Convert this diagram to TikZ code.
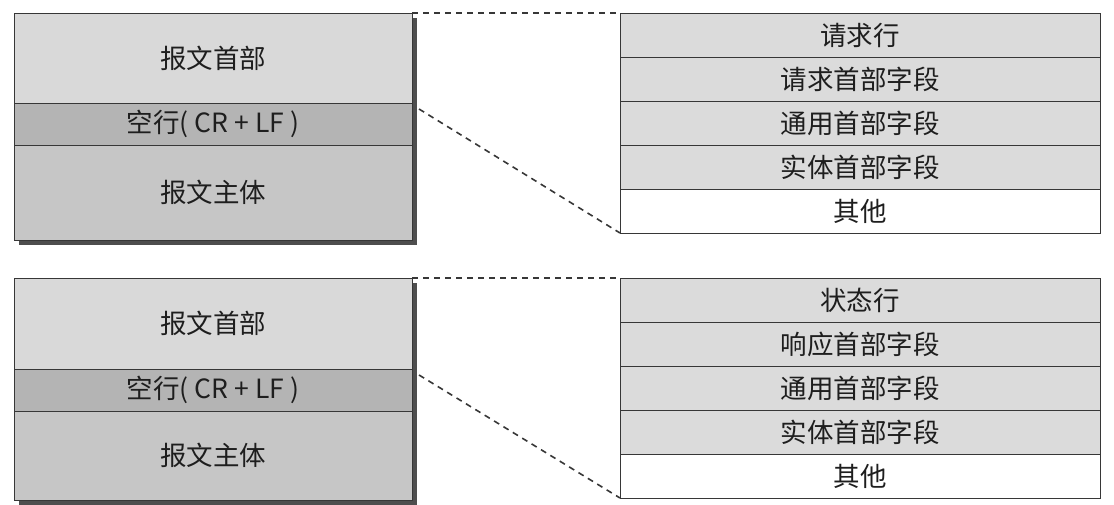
\documentclass[tikz,border=0pt]{standalone}
\usepackage{fontspec}
\setmainfont{Noto Sans CJK SC}
\usetikzlibrary{positioning,backgrounds}

\definecolor{headgray}{RGB}{217,217,217}
\definecolor{blankgray}{RGB}{180,180,180}
\definecolor{bodygray}{RGB}{198,198,198}
\definecolor{fieldgray}{RGB}{219,219,219}
\definecolor{shadowgray}{RGB}{78,78,78}
\definecolor{linegray}{RGB}{55,55,55}
\definecolor{textgray}{RGB}{30,30,30}

\begin{document}
\begin{tikzpicture}[x=1pt,y=-1pt,
  part/.style={draw=linegray, line width=0.9pt, minimum width=398pt, inner sep=0pt, outer sep=0pt, text=textgray, font=\fontsize{26.5}{26.5}\selectfont},
  field/.style={draw=linegray, line width=0.9pt, fill=fieldgray, minimum width=480pt, minimum height=44pt, inner sep=0pt, outer sep=0pt, text=textgray, font=\fontsize{26.5}{26.5}\selectfont},
  zoomline/.style={draw=linegray, line width=1.6pt, dash pattern=on 6pt off 5pt}]

\useasboundingbox (0,0) rectangle (1114,505);

% Request message (top)
\node[part, fill=headgray, minimum height=90pt, anchor=north west] (hdA) at (14,13) {报文首部};
\node[part, fill=blankgray, minimum height=42pt, below=0pt of hdA] (blA) {空行( CR + LF )};
\node[part, fill=bodygray, minimum height=95pt, below=0pt of blA] (bdA) {报文主体};

\node[field, anchor=north west] (rlA) at (620,13) {请求行};
\node[field, below=0pt of rlA] (rhA) {请求首部字段};
\node[field, below=0pt of rhA] (ghA) {通用首部字段};
\node[field, below=0pt of ghA] (ehA) {实体首部字段};
\node[field, fill=white, below=0pt of ehA] (otA) {其他};

% Response message (bottom)
\node[part, fill=headgray, minimum height=91pt, anchor=north west] (hdB) at (14,278) {报文首部};
\node[part, fill=blankgray, minimum height=42pt, below=0pt of hdB] (blB) {空行( CR + LF )};
\node[part, fill=bodygray, minimum height=89pt, below=0pt of blB] (bdB) {报文主体};

\node[field, anchor=north west] (slB) at (620,278) {状态行};
\node[field, below=0pt of slB] (rhB) {响应首部字段};
\node[field, below=0pt of rhB] (ghB) {通用首部字段};
\node[field, below=0pt of ghB] (ehB) {实体首部字段};
\node[field, fill=white, below=0pt of ehB] (otB) {其他};

% Drop shadows of the messages
\begin{scope}[on background layer]
\fill[shadowgray] ([shift={(5pt,-5pt)}]hdA.north west) rectangle ([shift={(5pt,-5pt)}]bdA.south east);
\fill[shadowgray] ([shift={(5pt,-5pt)}]hdB.north west) rectangle ([shift={(5pt,-5pt)}]bdB.south east);
\end{scope}

% Zoom lines
\draw[zoomline] (hdA.north east) -- (rlA.north west);
\draw[zoomline] ([shift={(7pt,-6pt)}]blA.north east) -- (otA.south west);
\draw[zoomline] (hdB.north east) -- (slB.north west);
\draw[zoomline] ([shift={(7pt,-6pt)}]blB.north east) -- (otB.south west);

\end{tikzpicture}
\end{document}
